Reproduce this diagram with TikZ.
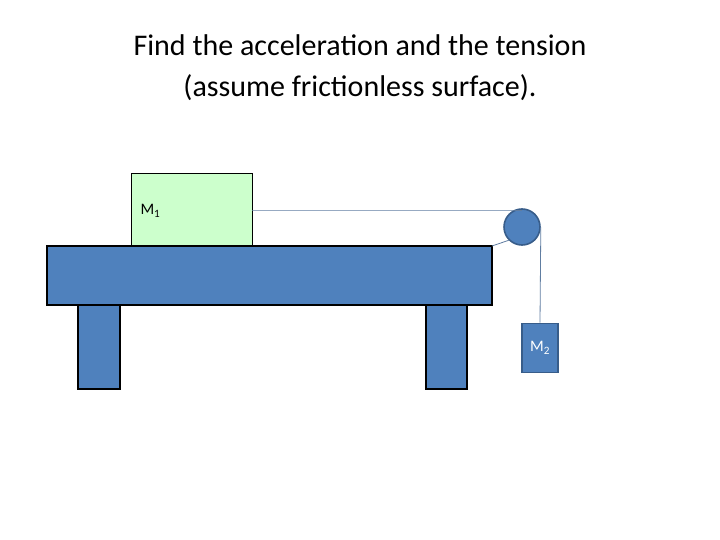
\documentclass[tikz,border=0pt]{standalone}
\usepackage{fontspec}
\setmainfont{Carlito}
\definecolor{blu}{HTML}{4F81BD}
\definecolor{bord}{HTML}{385D8A}
\definecolor{lgreen}{HTML}{CCFFCC}
\begin{document}
\begin{tikzpicture}[x=1pt,y=-1pt,
  tablepart/.style={fill=blu,draw=black,line width=1.6pt},
  str/.style={draw=bord!80,line width=0.8pt}]
\useasboundingbox (0,0) rectangle (720,540);
\node[align=center,font=\fontsize{30}{41}\selectfont] (title) at (360,68) {Find the acceleration and the tension\\(assume frictionless surface).};
\draw[tablepart] (78,305) rectangle (120,389);
\draw[tablepart] (426,305) rectangle (467,389);
\draw[tablepart] (47,246) rectangle (492,305);
\coordinate (tc) at (492,246);
\node[draw=black,line width=0.8pt,fill=lgreen,minimum width=121pt,minimum height=72pt,anchor=north west,inner sep=0pt] (m1) at (131,173) {};
\node[anchor=north west,font=\fontsize{16}{18}\selectfont] at (137,201) {M\textsubscript{1}};
\node[circle,fill=blu,draw=bord,line width=1.6pt,minimum size=36pt,inner sep=0pt] (p) at (522,227) {};
\node[draw=bord,line width=1.6pt,fill=blu,minimum width=36pt,minimum height=49pt,inner sep=0pt,text=white,font=\fontsize{16}{18}\selectfont] (m2) at (540,348) {M\textsubscript{2}};
\draw[str] (252,210) -- (p.north west |- 0,210) -- (522,210);
\draw[str] (tc) -- (p.south west);
\draw[str] (p.east) -- (m2.north);
\end{tikzpicture}
\end{document}
